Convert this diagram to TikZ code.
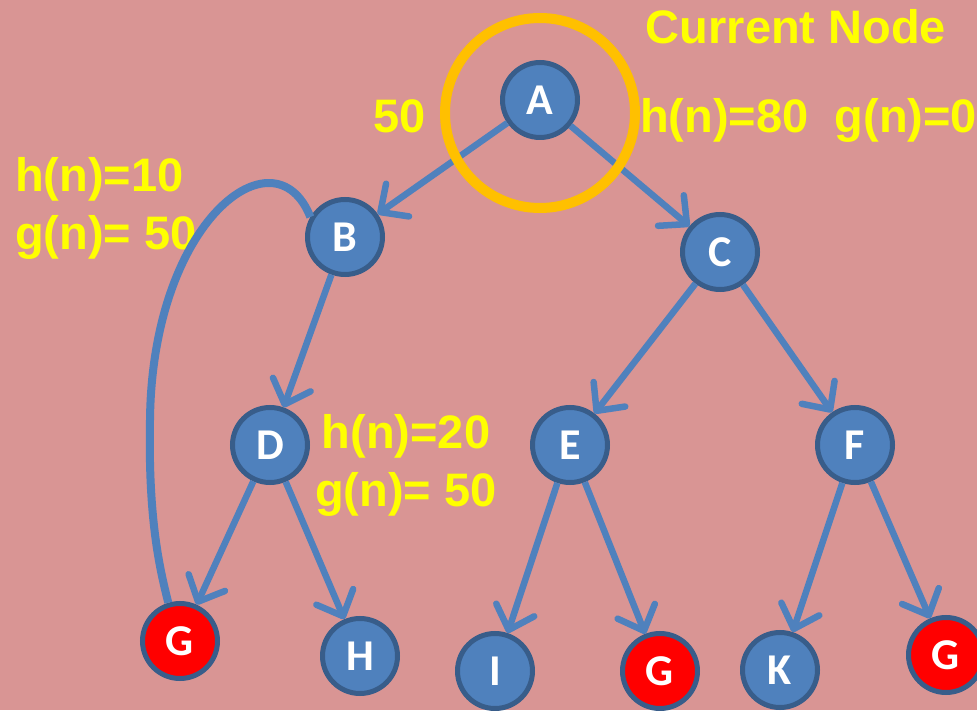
\documentclass[tikz,border=0pt]{standalone}
\usepackage{fontspec}
\usetikzlibrary{arrows.meta}
\newfontfamily\etqfont{Liberation Sans}
\newfontfamily\nodofont{Carlito}
\definecolor{fondo}{HTML}{D99594}
\definecolor{azul}{HTML}{4F81BD}
\definecolor{borde}{HTML}{385D8A}
\definecolor{naranja}{HTML}{FFC000}
\definecolor{amarillo}{HTML}{FFFF00}

\begin{document}
\begin{tikzpicture}[
  x=1pt, y=1pt,
  vnode/.style={circle, draw=borde, fill=azul, line width=5pt, inner sep=0pt,
    minimum size=75pt, text=white, font=\nodofont\bfseries\fontsize{44}{44}\selectfont},
  meta/.style={vnode, fill=red},
  edge/.style={draw=azul, line width=6.5pt,
    -{Straight Barb[length=21pt, width=40pt, round]}},
  etq/.style={inner sep=0pt, text=amarillo,
    font=\etqfont\bfseries\fontsize{47}{58}\selectfont}
]
  \useasboundingbox (0,0) rectangle (977,710);
  \fill[fondo] (0,0) rectangle (977,710);

  % Etiquetas
  \node[etq, anchor=base] (actual) at (796,666) {Current Node};
  \node[etq, anchor=base] (costeAB) at (400,577) {50};
  \node[etq, anchor=base west] (hgA) at (640,577) {h(n)=80\ \ g(n)=0};
  \node[etq, anchor=north west, align=left] (hgB) at (15,553) {h(n)=10\\g(n)= 50};
  \node[etq, anchor=north west, align=center] (hgD) at (315,296) {h(n)=20\\g(n)= 50};

  % Vértices
  \node[vnode] (A) at (540,610) {A};
  \node[vnode] (B) at (345,473) {B};
  \node[vnode] (C) at (720,458) {C};
  \node[vnode] (D) at (270,265) {D};
  \node[vnode] (E) at (570,265) {E};
  \node[vnode] (F) at (855,265) {F};
  \node[meta]  (G1) at (180,69) {G};
  \node[vnode] (H) at (360,54) {H};
  \node[vnode] (I) at (495,39) {I};
  \node[meta]  (G2) at (660,39) {G};
  \node[vnode] (K) at (780,40) {K};
  \node[meta]  (G3) at (946,55) {G};

  % Aristas
  \foreach \a/\b in {A/B, A/C, B/D, C/E, C/F, D/G1, D/H, E/I, E/G2, F/K, F/G3} {
    \draw[edge] (\a) -- (\b);
  }

  % Camino de B a G
  \draw[azul, line width=8pt] (B.150) .. controls (275,582) and (152,490) .. (150,290)
    .. controls (148,190) and (160,140) .. (G1.107);

  % Nodo actual
  \draw[naranja, line width=10pt] (A) ++(0,-13) circle (95);
\end{tikzpicture}
\end{document}
